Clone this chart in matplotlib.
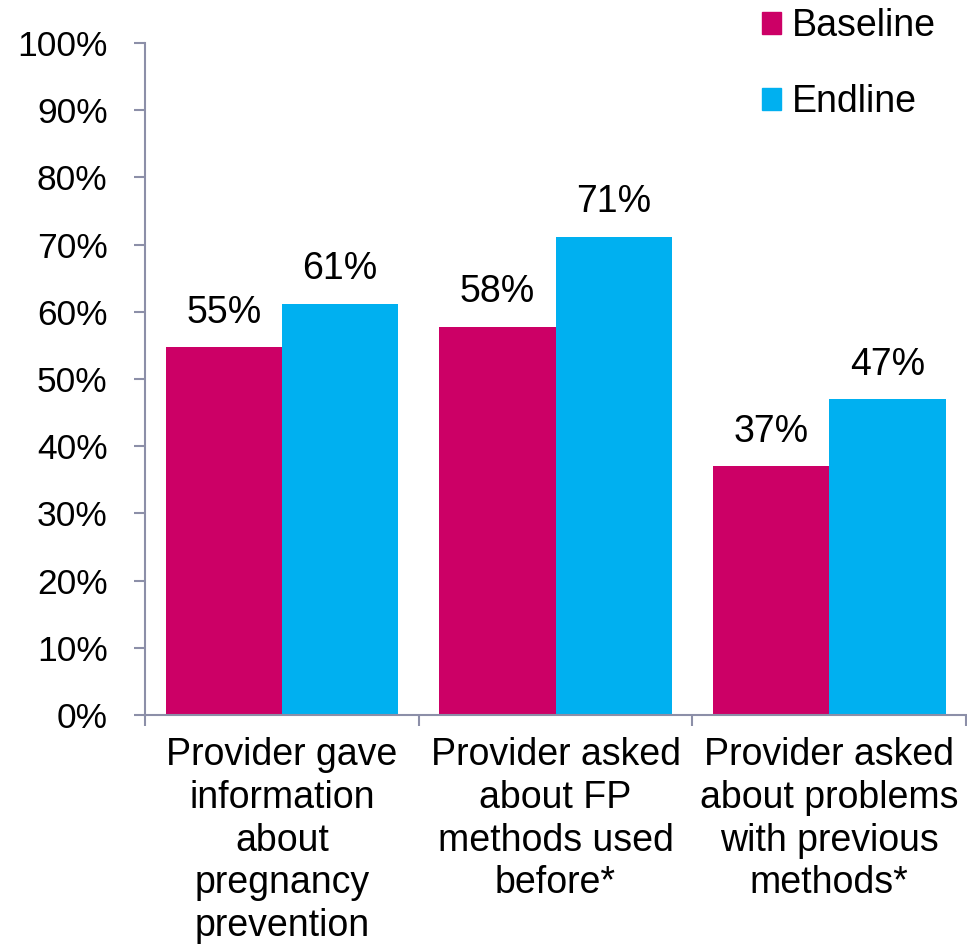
import matplotlib.pyplot as plt
import numpy as np
from matplotlib.patches import Patch

plt.rcParams['font.family'] = ['Liberation Sans', 'DejaVu Sans']

categories = ['Provider gave\ninformation\nabout\npregnancy\nprevention',
              'Provider asked\nabout FP\nmethods used\nbefore*',
              'Provider asked\nabout problems\nwith previous\nmethods*']
baseline = [54.7, 57.8, 37.0]
endline = [61.2, 71.2, 47.0]
baseline_labels = ['55%', '58%', '37%']
endline_labels = ['61%', '71%', '47%']
yticks = [0, 10, 20, 30, 40, 50, 60, 70, 80, 90, 100]

pink = '#CC0066'
blue = '#00B0F0'
axis_col = '#8C8FA8'

fig = plt.figure(figsize=(9.67, 9.49), dpi=100)
ax = fig.add_axes([0.150, 0.2466, 0.849, 0.708])

x = np.arange(len(categories))
w = 0.425
b1 = ax.bar(x - w / 2, baseline, w, color=pink, label='Baseline')
b2 = ax.bar(x + w / 2, endline, w, color=blue, label='Endline')

for bars, labs in [(b1, baseline_labels), (b2, endline_labels)]:
    for r, t in zip(bars, labs):
        ax.annotate(t, (r.get_x() + r.get_width() / 2, r.get_height()),
                    xytext=(0, 12), textcoords='offset points',
                    ha='center', va='bottom', fontsize=27)

ax.set_xlim(-0.5, 2.5)
ax.set_ylim(0, 100)
ax.set_yticks(yticks)
ax.set_yticklabels([f'{v}%' for v in yticks], fontsize=25.5)

ax.set_xticks([-0.5, 0.5, 1.5, 2.5])
ax.set_xticklabels([])
ax.set_xticks(x, minor=True)
ax.set_xticklabels(categories, minor=True, fontsize=27, linespacing=1.24)
ax.tick_params(axis='x', which='minor', length=0, pad=16)
ax.tick_params(axis='x', which='major', length=8, width=1.5, color=axis_col)
ax.tick_params(axis='y', length=8, width=1.5, color=axis_col, pad=19)

for s in ['top', 'right']:
    ax.spines[s].set_visible(False)
for s in ['left', 'bottom']:
    ax.spines[s].set_color(axis_col)
    ax.spines[s].set_linewidth(1.5)

handles = [Patch(color=pink, label='Baseline'), Patch(color=blue, label='Endline')]
fig.legend(handles=handles, loc='upper left', bbox_to_anchor=(0.753, 1.027),
           frameon=False, fontsize=27, handlelength=0.5, handleheight=0.5,
           handletextpad=0.3, labelspacing=1.07)

fig.savefig('out.png', dpi=100)
